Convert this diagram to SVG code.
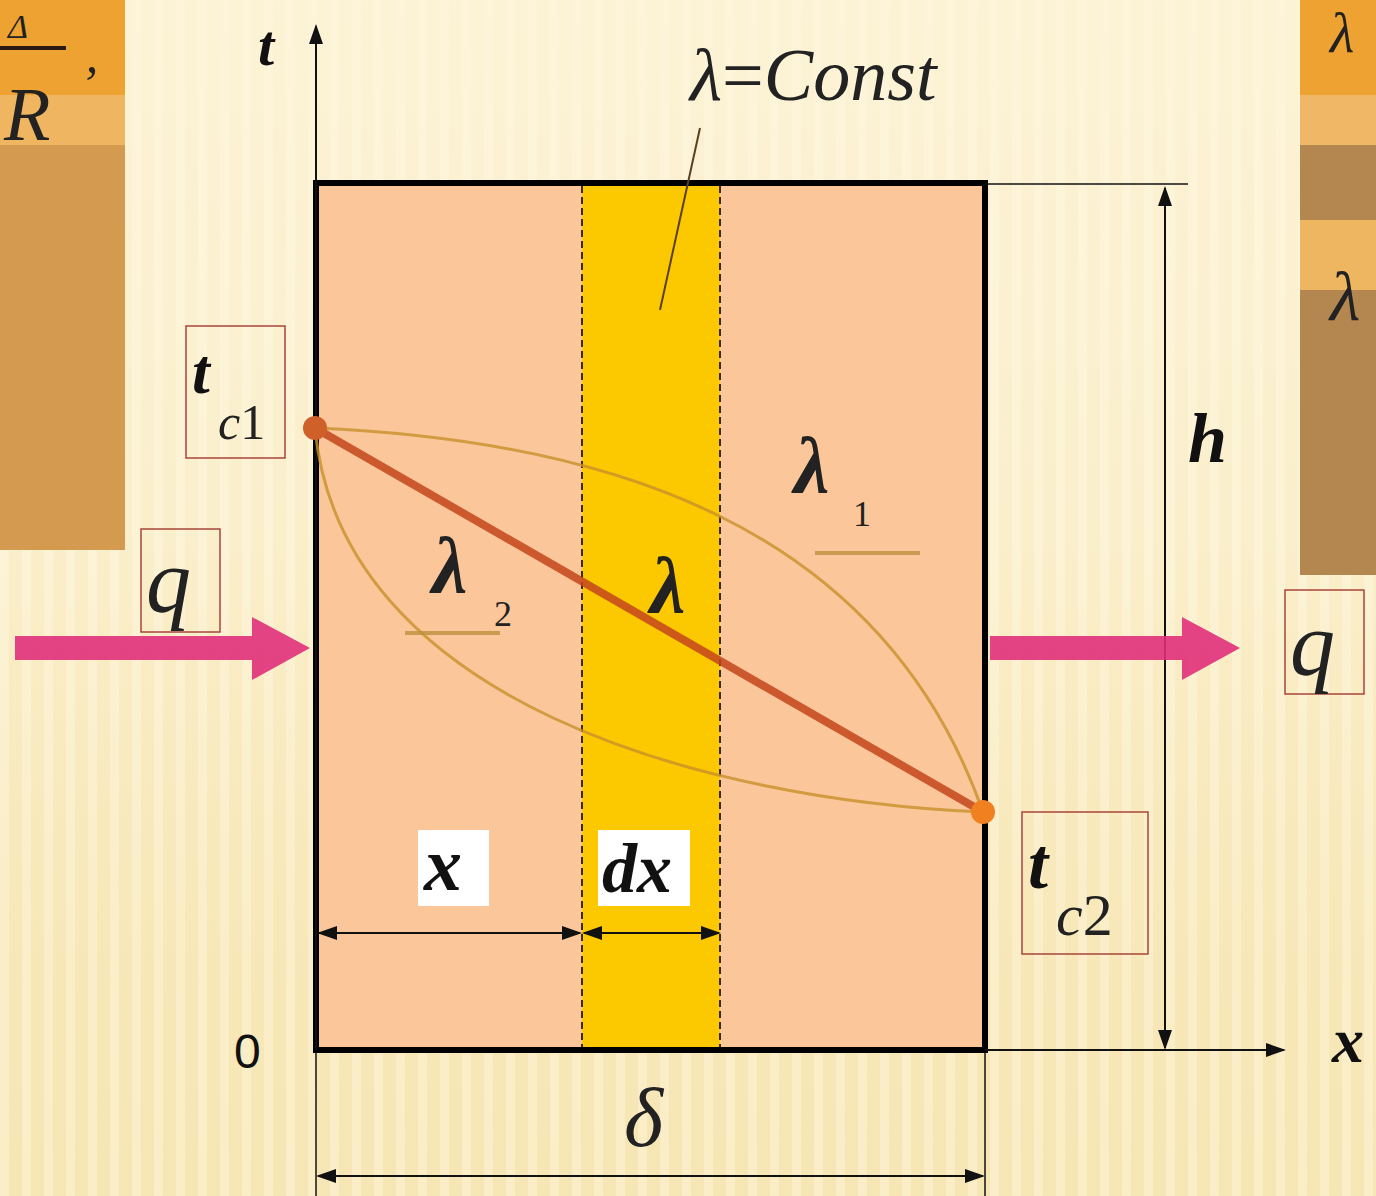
<svg xmlns="http://www.w3.org/2000/svg" width="1376" height="1196" viewBox="0 0 1376 1196">
<style>
.it{font-family:"Liberation Serif",serif;font-style:italic;font-weight:bold;fill:#111}
.itn{font-family:"Liberation Serif",serif;font-style:italic;fill:#222}
.rm{font-family:"Liberation Serif",serif;fill:#222}
.sans{font-family:"Liberation Sans",sans-serif;fill:#111}
.box{fill:none;stroke:#a8453a;stroke-width:1.5}
.wbox{fill:#fff}
.thin{stroke:#111;stroke-width:2;fill:none}
.pink{fill:#e0307a;opacity:0.9}
</style>
<defs>
<pattern id="stripes" width="22" height="1196" patternUnits="userSpaceOnUse">
<rect width="22" height="1196" fill="#f8e9bb"/>
<rect x="0" width="9" height="1196" fill="#fcf2d2"/>
</pattern>
<linearGradient id="fade" x1="0" y1="0" x2="0" y2="1">
<stop offset="0" stop-color="#fdf5dc" stop-opacity="0.8"/>
<stop offset="0.45" stop-color="#fdf5dc" stop-opacity="0.5"/>
<stop offset="1" stop-color="#f3dc9c" stop-opacity="0.2"/>
</linearGradient>
<marker id="ah" viewBox="0 0 10 10" refX="9" refY="5" markerWidth="10" markerHeight="10" orient="auto-start-reverse">
<path d="M0,1.5 L10,5 L0,8.5 Z" fill="#111"/>
</marker>
</defs>

<g id="background">
<rect width="1376" height="1196" fill="url(#stripes)"/>
<rect width="1376" height="1196" fill="url(#fade)"/>
</g>

<g id="left-panel">
<rect x="0" y="0" width="125" height="550" fill="#efb560"/>
<rect x="0" y="0" width="125" height="95" fill="#eea232"/>
<rect x="0" y="145" width="125" height="405" fill="#c9904a" opacity="0.7"/>
<line x1="0" y1="48" x2="66" y2="48" stroke="#2a1a10" stroke-width="4"/>
<text class="itn" x="8" y="38" font-size="34">Δ</text>
<text class="itn" x="4" y="140" font-size="76">R</text>
<text class="itn" x="80" y="100" font-size="50">’</text>
</g>

<g id="right-panel">
<rect x="1300" y="0" width="76" height="575" fill="#b48650"/>
<rect x="1300" y="0" width="76" height="95" fill="#eea232"/>
<rect x="1300" y="95" width="76" height="50" fill="#f0b766"/>
<rect x="1300" y="220" width="76" height="70" fill="#eeb660"/>
<text class="itn" x="1330" y="52" font-size="56">λ</text>
<text class="itn" x="1330" y="320" font-size="70">λ</text>
</g>

<g id="wall">
<rect x="316" y="183" width="669" height="867" fill="#fbc79a"/>
<rect x="582" y="183" width="138" height="867" fill="#fcc800"/>
<line x1="582" y1="186" x2="582" y2="1048" stroke="#3a2a10" stroke-width="2" stroke-dasharray="7,4"/>
<line x1="720" y1="186" x2="720" y2="1048" stroke="#3a2a10" stroke-width="2" stroke-dasharray="7,4"/>
<rect x="316" y="183" width="669" height="867" fill="none" stroke="#000" stroke-width="6"/>
</g>

<g id="axes">
<line x1="316" y1="1050" x2="316" y2="26" class="thin" marker-end="url(#ah)"/>
<text id="t-label" class="it" x="258" y="65" font-size="58">t</text>
<line x1="985" y1="1050" x2="1284" y2="1050" class="thin" marker-end="url(#ah)"/>
<text id="x-axis-label" class="it" x="1332" y="1062" font-size="64">x</text>
<text id="origin" class="sans" x="234" y="1068" font-size="48">0</text>
</g>

<g id="connectors">
<line x1="985" y1="184" x2="1188" y2="184" stroke="#111" stroke-width="1.5"/>
<line x1="1165" y1="188" x2="1165" y2="1048" class="thin" marker-start="url(#ah)" marker-end="url(#ah)"/>
<line x1="316" y1="1052" x2="316" y2="1196" stroke="#111" stroke-width="1.5"/>
<line x1="985" y1="1052" x2="985" y2="1196" stroke="#111" stroke-width="1.5"/>
<line x1="318" y1="1176" x2="983" y2="1176" class="thin" marker-start="url(#ah)" marker-end="url(#ah)"/>
<line x1="319" y1="933" x2="580" y2="933" class="thin" marker-start="url(#ah)" marker-end="url(#ah)"/>
<line x1="584" y1="933" x2="719" y2="933" class="thin" marker-start="url(#ah)" marker-end="url(#ah)"/>
<line x1="700" y1="128" x2="660" y2="310" stroke="#5a4020" stroke-width="2"/>
<path d="M15,636 H252 V617 L310,648 L252,680 V660 H15 Z" class="pink"/>
<path d="M990,636 H1182 V617 L1240,648 L1182,680 V660 H990 Z" class="pink"/>
<path d="M315,428 C600,440 880,520 983,812" fill="none" stroke="#c8902a" stroke-width="3" opacity="0.8"/>
<path d="M315,428 C340,700 700,800 983,812" fill="none" stroke="#c8902a" stroke-width="3" opacity="0.8"/>
<line x1="815" y1="553" x2="920" y2="553" stroke="#c09040" stroke-width="4" opacity="0.8"/>
<line x1="405" y1="633" x2="500" y2="633" stroke="#c09040" stroke-width="4" opacity="0.8"/>
<line x1="315" y1="428" x2="983" y2="812" stroke="#c4461c" stroke-width="8" opacity="0.85"/>
<circle cx="315" cy="428" r="12" fill="#d0602a"/>
<circle cx="983" cy="812" r="12" fill="#f08020"/>
</g>

<g id="label-const">
<text class="itn" x="690" y="100" font-size="74">λ<tspan font-style="normal">=</tspan>Const</text>
</g>

<g id="label-tc1">
<rect x="186" y="326" width="99" height="132" class="box"/>
<text class="it" x="192" y="393" font-size="64">t</text>
<text class="itn" x="218" y="439" font-size="50">c<tspan font-style="normal">1</tspan></text>
</g>

<g id="label-q-left">
<rect x="141" y="529" width="79" height="103" class="box"/>
<text class="itn" x="146" y="612" font-size="90">q</text>
</g>

<g id="label-q-right">
<rect x="1285" y="590" width="79" height="104" class="box"/>
<text class="itn" x="1290" y="675" font-size="90">q</text>
</g>

<g id="label-tc2">
<rect x="1022" y="812" width="126" height="142" class="box"/>
<text class="it" x="1028" y="888" font-size="72">t</text>
<text class="itn" x="1056" y="935" font-size="60">c<tspan font-style="normal">2</tspan></text>
</g>

<g id="label-h">
<text class="it" x="1188" y="462" font-size="70">h</text>
</g>

<g id="label-lambdas">
<text class="itn" x="432" y="592" font-size="80" font-weight="bold">λ</text>
<text class="rm" x="494" y="626" font-size="36">2</text>
<text class="itn" x="650" y="612" font-size="80" font-weight="bold">λ</text>
<text class="itn" x="794" y="492" font-size="80" font-weight="bold">λ</text>
<text class="rm" x="853" y="526" font-size="36">1</text>
</g>

<g id="label-x">
<rect x="418" y="830" width="71" height="76" class="wbox"/>
<text class="it" x="424" y="890" font-size="76">x</text>
</g>

<g id="label-dx">
<rect x="598" y="830" width="92" height="76" class="wbox"/>
<text class="it" x="602" y="892" font-size="70">dx</text>
</g>

<g id="label-delta">
<text class="itn" x="624" y="1146" font-size="84">δ</text>
</g>
</svg>
